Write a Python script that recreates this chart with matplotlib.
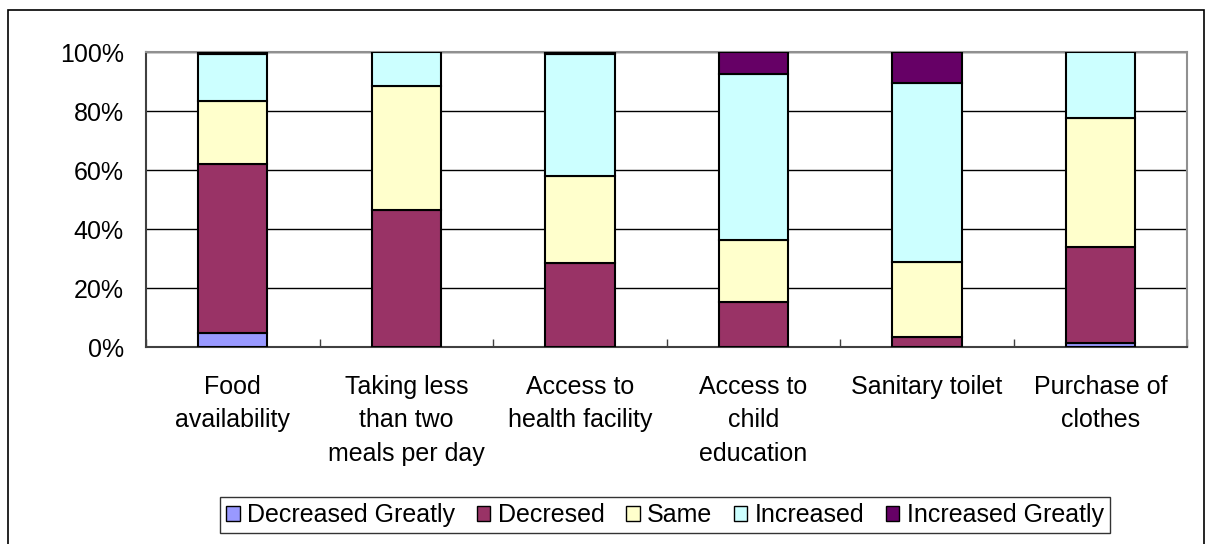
import matplotlib.pyplot as plt
import numpy as np
from matplotlib.patches import Rectangle

plt.rcParams['font.family'] = ['Liberation Sans', 'DejaVu Sans']

categories = ["Food\navailability", "Taking less\nthan two\nmeals per day",
              "Access to\nhealth facility", "Access to\nchild\neducation",
              "Sanitary toilet", "Purchase of\nclothes"]
series_names = ["Decreased Greatly", "Decresed", "Same", "Increased", "Increased Greatly"]
decreased_greatly = [4.6, 0.0, 0.0, 0.0, 0.0, 1.2]
decreased = [57.4, 46.4, 28.4, 15.4, 3.3, 32.6]
same = [21.5, 42.1, 29.6, 20.9, 25.6, 43.7]
increased = [15.7, 11.5, 41.2, 56.1, 60.7, 22.5]
increased_greatly = [0.8, 0.0, 0.8, 7.6, 10.4, 0.0]
colors = ["#9999FF", "#993366", "#FFFFCC", "#CCFFFF", "#660066"]

fig = plt.figure(figsize=(12.06, 5.44), dpi=100)
ax = fig.add_axes([0.1211, 0.3621, 0.8632, 0.5423])

# outer chart border
fig.patches.append(Rectangle((8 / 1206, -0.05), 1196 / 1206, 1.05 - 10 / 544,
                             transform=fig.transFigure, fill=False,
                             edgecolor="black", linewidth=1.2))

x = np.arange(len(categories))
data = [decreased_greatly, decreased, same, increased, increased_greatly]
tot = np.array([sum(v) for v in zip(*data)])
bottom = np.zeros(len(categories))
handles = []
for name, vals, col in zip(series_names, data, colors):
    pct = np.array(vals) / tot * 100
    mask = pct > 0
    ax.bar(x[mask], pct[mask], 0.4, bottom=bottom[mask], color=col,
           edgecolor="black", linewidth=1.5, zorder=3)
    handles.append(plt.Rectangle((0, 0), 1, 1, facecolor=col, edgecolor="black", linewidth=1))
    bottom += pct

ax.set_xlim(-0.5, len(categories) - 0.5)
ax.set_ylim(0, 100)
ax.set_yticks([0, 20, 40, 60, 80, 100])
ax.set_yticklabels(["0%", "20%", "40%", "60%", "80%", "100%"], fontsize=18)
ax.yaxis.grid(True, color="black", linewidth=1, zorder=0)
ax.tick_params(axis="y", length=0, pad=16)

ax.set_xticks(x)
ax.set_xticklabels(categories, fontsize=18, va="top", linespacing=1.5)
ax.tick_params(axis="x", length=0, pad=20)
ax.set_xticks(np.arange(len(categories) + 1) - 0.5, minor=True)
ax.tick_params(axis="x", which="minor", direction="in", length=6, color="#404040", width=1)

for s in ["top", "right"]:
    ax.spines[s].set_color("#909090")
    ax.spines[s].set_linewidth(1.5)
for s in ["left", "bottom"]:
    ax.spines[s].set_color("#404040")
    ax.spines[s].set_linewidth(1.5)

leg = fig.legend(handles, series_names, loc="center", bbox_to_anchor=(0.5514, 0.0533),
                 ncol=5, fontsize=18, frameon=True, fancybox=False, edgecolor="black",
                 handlelength=0.55, handleheight=0.55, handletextpad=0.3,
                 columnspacing=0.85, borderpad=0.25, borderaxespad=0)
leg.get_frame().set_linewidth(1)

fig.savefig("out.png", dpi=100)
